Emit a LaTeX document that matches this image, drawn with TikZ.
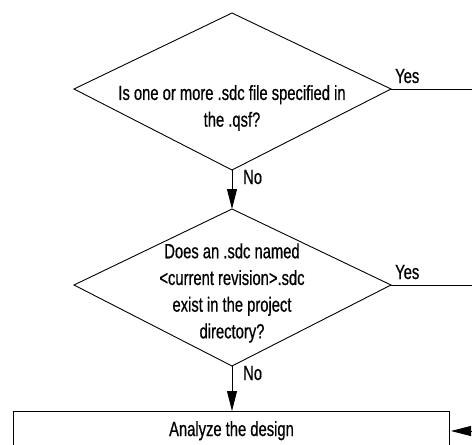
\documentclass[tikz,border=0pt]{standalone}
\usepackage{fontspec}
\setmainfont{Liberation Sans}[FakeStretch=0.72, FakeBold=0.6]
\usetikzlibrary{arrows.meta}
\tikzset{
  x=1pt, y=-1pt,
  flowline/.style={line width=0.9pt, draw=black},
  flowarrow/.style={flowline, -{Triangle[length=20pt,width=10pt]}},
  txt/.style={inner sep=0pt, font=\fontsize{20.5}{26.7}\selectfont, align=center},
  lbl/.style={inner sep=0pt, font=\fontsize{20.5}{26.7}\selectfont, anchor=base west},
}
\begin{document}
\begin{tikzpicture}
\useasboundingbox (0,0) rectangle (472,445);
\clip (0,0) rectangle (472,445);
% diamond 1
\coordinate (d1t) at (232,13);
\coordinate (d1l) at (74,89);
\coordinate (d1r) at (391,89);
\coordinate (d1b) at (232,170);
\draw[flowline] (d1t) -- (d1r) -- (d1b) -- (d1l) -- cycle;
\node[txt] (q1) at (232,108) {Is one or more .sdc file specified in\\the .qsf?};
% diamond 2
\coordinate (d2t) at (232,209);
\coordinate (d2l) at (74,285);
\coordinate (d2r) at (391,285);
\coordinate (d2b) at (232,366);
\draw[flowline] (d2t) -- (d2r) -- (d2b) -- (d2l) -- cycle;
\node[txt] (q2) at (232,293) {Does an .sdc named\\<current revision>.sdc\\exist in the project\\directory?};
% box
\node[draw, line width=1pt, minimum width=436pt, minimum height=60pt, inner sep=0pt, anchor=north west] (box) at (13,411) {};
\node[txt, anchor=base] (boxtxt) at (231.5,436) {Analyze the design};
% connectors
\draw[flowarrow] (d1b) -- (d2t);
\draw[flowarrow] (d2b) -- (box.north -| d2b);
\coordinate (y1end) at (480,89);
\coordinate (y2end) at (480,285);
\draw[flowline] (d1r) -- (y1end);
\draw[flowline] (d2r) -- (y2end);
\coordinate (backin) at (495,431);
\coordinate (backtip) at (451,431);
\draw[flowarrow] (backin) -- (backtip);
% labels
\node[lbl] (yes1) at (395,83) {Yes};
\node[lbl] (yes2) at (395,279) {Yes};
\node[lbl] (no1) at (243,184) {No};
\node[lbl] (no2) at (243,380) {No};
\end{tikzpicture}
\end{document}
